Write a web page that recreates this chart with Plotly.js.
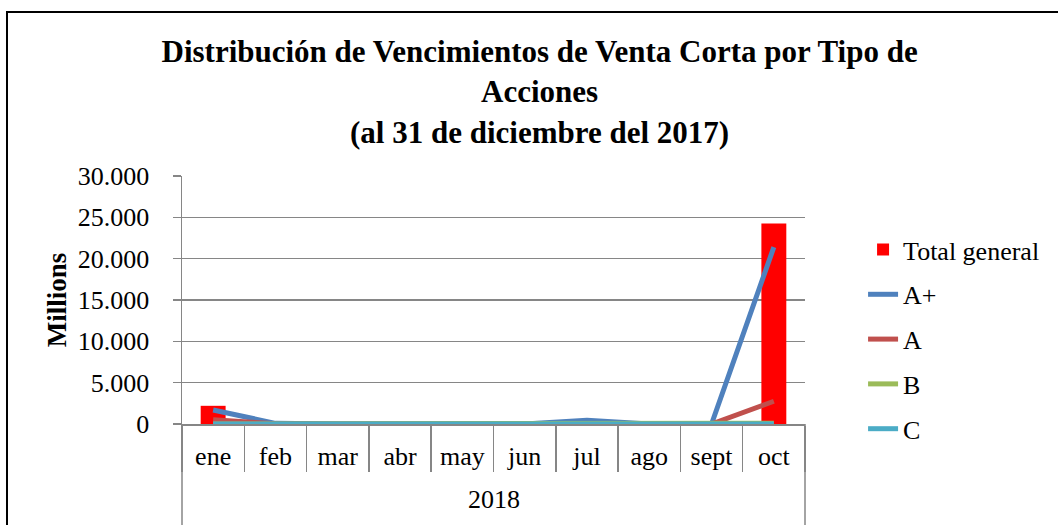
<!DOCTYPE html>
<html>
<head>
<meta charset="utf-8">
<script src="https://cdn.plot.ly/plotly-3.0.1.min.js"></script>
<style>
  html, body { margin: 0; padding: 0; background: #ffffff; }
  #chart { width: 1058px; height: 525px; }
</style>
</head>
<body>
<div id="chart"></div>
<script>
// ---- data (values in millions) ----
const months = ['ene', 'feb', 'mar', 'abr', 'may', 'jun', 'jul', 'ago', 'sept', 'oct'];
const yearLabel = '2018';
const totalGeneral = [2200, 110, 0, 0, 0, 0, 450, 0, 0, 24250];
const seriesAplus = [1700, 80, 0, 0, 0, 0, 450, 0, 0, 21400];
const seriesA = [500, 30, 0, 0, 0, 0, 0, 0, 0, 2750];
const seriesB = [0, 0, 0, 0, 0, 0, 0, 0, 0, 100];
const seriesC = [0, 0, 0, 0, 0, 0, 0, 0, 0, 0];
const seriesNames = ['Total general', 'A+', 'A', 'B', 'C'];
const yTicks = [0, 5000, 10000, 15000, 20000, 25000, 30000];

const FONT = "'Liberation Serif', 'Times New Roman', serif";
const GRAY = '#868686';

function lineTrace(name, values, color, group) {
  return {
    type: 'scatter', mode: 'lines', name: name, x: months, y: values,
    line: { color: color, width: 5 }, legendgroup: group, hoverinfo: 'skip'
  };
}

const traces = [
  { type: 'bar', name: seriesNames[0], x: months, y: totalGeneral,
    marker: { color: '#FF0000' }, legendgroup: 'g0', hoverinfo: 'skip' },
  lineTrace(seriesNames[1], seriesAplus, '#4F81BD', 'g1'),
  lineTrace(seriesNames[2], seriesA, '#C0504D', 'g2'),
  lineTrace(seriesNames[3], seriesB, '#9BBB59', 'g3'),
  lineTrace(seriesNames[4], seriesC, '#4BACC6', 'g4')
];

const layout = {
  width: 1058, height: 525, autosize: false,
  margin: { l: 182, r: 253, t: 176, b: 101 },
  paper_bgcolor: '#ffffff', plot_bgcolor: '#ffffff',
  font: { family: FONT, size: 26, color: '#000000' },
  separators: ',.',
  bargap: 0.6,
  title: {
    text: '<b>Distribución de Vencimientos de Venta Corta por Tipo de<br>Acciones<br>(al 31 de diciembre del 2017)</b>',
    font: { family: FONT, size: 31, color: '#000000' },
    x: 0.51, xanchor: 'center', y: 0.882, yanchor: 'top'
  },
  xaxis: {
    type: 'category', tickson: 'boundaries', ticks: 'outside', ticklen: 46,
    tickwidth: 1.5, tickcolor: GRAY, showline: true, linecolor: GRAY, linewidth: 1.5,
    showgrid: false, zeroline: false, ticklabelstandoff: 8,
    tickfont: { family: FONT, size: 26, color: '#000000' }
  },
  yaxis: {
    range: [0, 30000], tickvals: yTicks, tickformat: ',d',
    ticks: 'outside', ticklen: 8, tickwidth: 1.5, tickcolor: GRAY,
    showline: true, linecolor: GRAY, linewidth: 1.5,
    showgrid: true, gridcolor: GRAY, gridwidth: 1.5, zeroline: false,
    ticklabelstandoff: 18,
    tickfont: { family: FONT, size: 26, color: '#000000' },
    title: { text: '<b>Millions</b>', font: { family: FONT, size: 27, color: '#000000' }, standoff: 3 }
  },
  showlegend: true,
  legend: {
    x: 1.0932, xanchor: 'left', y: 0.798, yanchor: 'top',
    traceorder: 'grouped', tracegroupgap: 8,
    font: { family: FONT, size: 26, color: '#000000' },
    bgcolor: 'rgba(0,0,0,0)', borderwidth: 0
  },
  annotations: [
    { xref: 'paper', yref: 'paper', x: 0.5, y: -0.306, text: yearLabel, showarrow: false,
      xanchor: 'center', yanchor: 'middle', font: { family: FONT, size: 26, color: '#000000' } }
  ],
  shapes: [
    // outer chart border (left and top visible)
    { type: 'rect', xref: 'paper', yref: 'paper', x0: -0.2809, x1: 1.45, y0: -0.5, y1: 1.661,
      line: { color: '#000000', width: 2 }, fillcolor: 'rgba(0,0,0,0)', layer: 'below' },
    // category table outer verticals
    { type: 'line', xref: 'paper', yref: 'paper', x0: 0, x1: 0, y0: 0, y1: -0.45,
      line: { color: GRAY, width: 1.5 } },
    { type: 'line', xref: 'paper', yref: 'paper', x0: 1, x1: 1, y0: 0, y1: -0.45,
      line: { color: GRAY, width: 1.5 } }
  ]
};

Plotly.newPlot('chart', traces, layout, { staticPlot: true, displayModeBar: false });
</script>
</body>
</html>
